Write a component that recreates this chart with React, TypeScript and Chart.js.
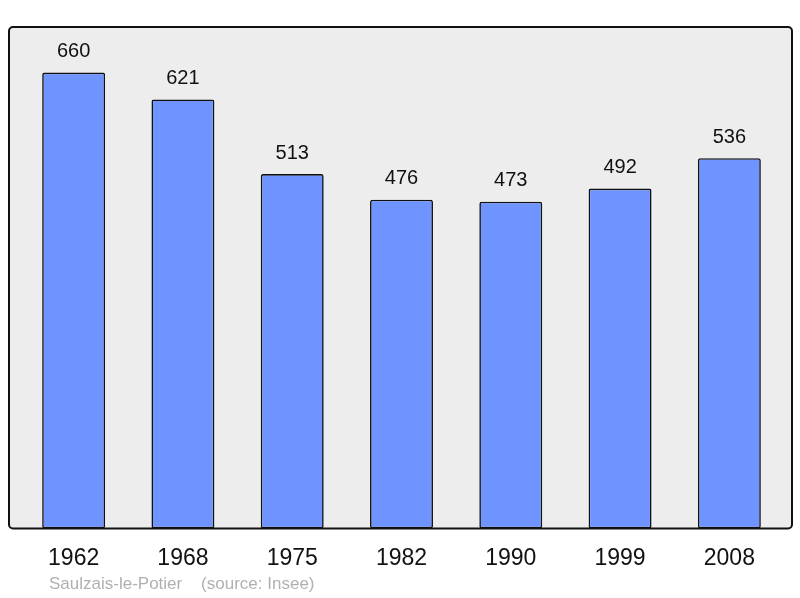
import React, { useEffect, useRef } from "react";
import { Chart, registerables } from "chart.js";

Chart.register(...registerables);

const years = ["1962", "1968", "1975", "1982", "1990", "1999", "2008"];
const population = [660, 621, 513, 476, 473, 492, 536];
const sourceText = "Saulzais-le-Potier    (source: Insee)";

const FONT = "'Liberation Sans', Arial, sans-serif";

// grey box behind the bars, value labels, source line
const decorations = {
  id: "decorations",
  beforeDraw(chart: Chart) {
    const { ctx, chartArea } = chart;
    const left = chartArea.left - 10;
    const right = chartArea.right + 8;
    ctx.save();
    ctx.beginPath();
    ctx.roundRect(left, chartArea.top, right - left, chartArea.bottom - chartArea.top, 4);
    ctx.fillStyle = "#ededed";
    ctx.fill();
    ctx.restore();
  },
  afterDatasetsDraw(chart: Chart) {
    const { ctx, chartArea } = chart;
    const left = chartArea.left - 10;
    const right = chartArea.right + 8;
    ctx.save();
    ctx.beginPath();
    ctx.roundRect(left, chartArea.top, right - left, chartArea.bottom - chartArea.top, 4);
    ctx.lineWidth = 2;
    ctx.strokeStyle = "#111";
    ctx.stroke();

    const meta = chart.getDatasetMeta(0);
    ctx.fillStyle = "#111";
    ctx.font = "20px " + FONT;
    ctx.textAlign = "center";
    ctx.textBaseline = "middle";
    meta.data.forEach((bar: any, i: number) => {
      ctx.fillText(String(population[i]), bar.x, bar.y - 21);
    });

    ctx.fillStyle = "#b0b0b0";
    ctx.font = "17px " + FONT;
    ctx.textAlign = "left";
    ctx.fillText(sourceText, 49, 584);
    ctx.restore();
  },
};

export default function App() {
  const canvasRef = useRef<HTMLCanvasElement | null>(null);

  useEffect(() => {
    document.body.style.margin = "0";
    const ctx = canvasRef.current!.getContext("2d")!;
    const chart = new Chart(ctx, {
      type: "bar",
      data: {
        labels: years,
        datasets: [
          {
            data: population,
            backgroundColor: "#7094ff",
            borderColor: "#111",
            borderWidth: 1.6,
            borderRadius: 2,
            borderSkipped: false,
            categoryPercentage: 1,
            barPercentage: 0.576,
          },
        ],
      },
      options: {
        animation: false,
        responsive: true,
        maintainAspectRatio: false,
        layout: { padding: { left: 19, right: 16, top: 27, bottom: 10 } },
        plugins: {
          legend: { display: false },
          tooltip: { enabled: false },
        },
        scales: {
          x: {
            grid: { display: false, drawTicks: false },
            border: { display: false },
            ticks: {
              color: "#111",
              padding: 16,
              font: { family: FONT, size: 23 },
            },
          },
          y: {
            display: false,
            min: 0,
            max: 726,
          },
        },
      },
      plugins: [decorations],
    });
    return () => {
      chart.destroy();
    };
  }, []);

  return (
    <div style={{ width: 800, height: 598, position: "relative" }}>
      <canvas ref={canvasRef} />
    </div>
  );
}
